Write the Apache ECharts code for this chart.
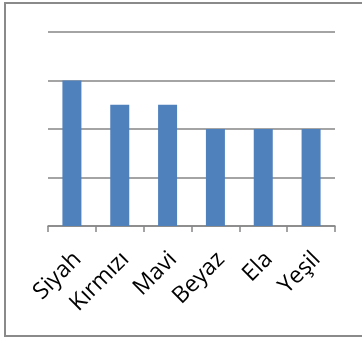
<!DOCTYPE html>
<html>
<head>
<meta charset="utf-8">
<script src="https://cdn.jsdelivr.net/npm/echarts@6/dist/echarts.min.js"></script>
<style>
  html, body { margin: 0; padding: 0; background: #fff; }
  #chart { width: 362px; height: 342px; }
</style>
</head>
<body>
<div id="chart"></div>
<script>
// Eye colours and how many people have each
const categories = ['Siyah', 'Kırmızı', 'Mavi', 'Beyaz', 'Ela', 'Yeşil'];
const counts = [3, 2.5, 2.5, 2, 2, 2];

const chart = echarts.init(document.getElementById('chart'));
chart.setOption({
  animation: false,
  graphic: [{
    type: 'rect',
    shape: { x: 5, y: 3, width: 360, height: 333 },
    style: { fill: 'none', stroke: '#8a8a8a', lineWidth: 2 },
    silent: true
  }],
  grid: { left: 48, right: 27, top: 32, bottom: 116 },
  xAxis: {
    type: 'category',
    data: categories,
    axisLine: { lineStyle: { color: '#868686', width: 1.5 } },
    axisTick: { show: true, length: 6, lineStyle: { color: '#868686', width: 1.5 } },
    axisLabel: {
      rotate: 45,
      margin: 24,
      verticalAlign: 'top',
      lineHeight: 16,
      fontFamily: 'Open Sans',
      fontSize: 23,
      color: '#000'
    }
  },
  yAxis: {
    type: 'value',
    min: 0,
    max: 4,
    interval: 1,
    axisLabel: { show: false },
    axisLine: { show: false },
    axisTick: { show: false },
    splitLine: { lineStyle: { color: '#868686', width: 1.5 } }
  },
  series: [{
    type: 'bar',
    data: counts,
    barWidth: 19,
    itemStyle: { color: '#4f81bd' }
  }]
});
</script>
</body>
</html>
